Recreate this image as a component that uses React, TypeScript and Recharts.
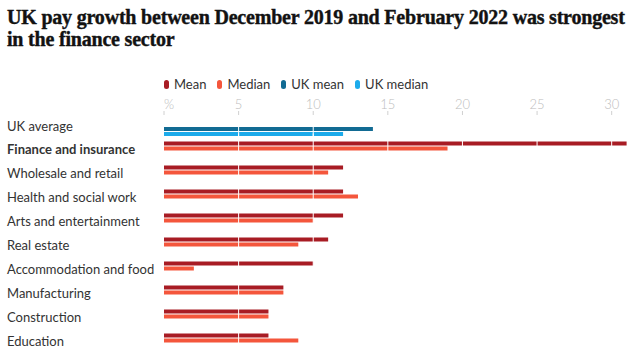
import { BarChart, Bar, XAxis, YAxis, Cell, ReferenceLine } from 'recharts'

const title = 'UK pay growth between December 2019 and February 2022 was strongest in the finance sector'

const sectors = [
  'Finance and insurance', 'Wholesale and retail', 'Health and social work',
  'Arts and entertainment', 'Real estate', 'Accommodation and food',
  'Manufacturing', 'Construction', 'Education',
]
const meanGrowth = [31, 12, 12, 12, 11, 10, 8, 7, 7]
const medianGrowth = [19, 11, 13, 10, 9, 2, 8, 7, 9]

const ukLabel = 'UK average'
const ukMean = [14]
const ukMedian = [12]

const xTicks = [0, 5, 10, 15, 20, 25, 30]
const highlighted = 'Finance and insurance'

const legendNames = ['Mean', 'Median', 'UK mean', 'UK median']
const legendColors = ['#a81c24', '#f4563c', '#126b93', '#1cabeb']

const W = 634
const SANS = 'Lato, "Noto Sans", sans-serif'
const DOMAIN: [number, number] = [0, 31]

const sectorData = sectors.map((name, i) => ({ name, mean: meanGrowth[i], median: medianGrowth[i] }))
const ukData = [{ name: ukLabel, mean: ukMean[0], median: ukMedian[0] }]

function RowLabel({ y, payload, dy }: any) {
  const bold = payload.value === highlighted
  return (
    <text x={7} y={y + dy} fill="#333" fontSize={13} fontFamily={SANS} fontWeight={bold ? 700 : 400}>
      {payload.value}
    </text>
  )
}

function XTick({ x, y, payload }: any) {
  const zero = payload.value === 0
  return (
    <text x={x} y={y} dy={0} textAnchor={zero ? 'start' : 'middle'} fill="#bdbdbd"
      fontSize={13} fontFamily={SANS} fontWeight={300}>
      {zero ? '%' : payload.value}
    </text>
  )
}

function gridOverlay() {
  return xTicks.filter(t => t > 0).map(t => (
    <ReferenceLine key={t} x={t} stroke="#fff" strokeWidth={1} ifOverflow="extendDomain" />
  ))
}

export default function App() {
  return (
    <div style={{ position: 'absolute', left: 0, top: 0, width: W, height: 357, background: '#fff', overflow: 'hidden' }}>
      <div style={{
        position: 'absolute', left: 7, top: 6, width: 623,
        fontFamily: '"Liberation Serif", serif', fontWeight: 700, fontSize: 20,
        lineHeight: '22px', color: '#121212', letterSpacing: -0.2,
        WebkitTextStroke: '0.4px #121212',
      }}>
        {title}
      </div>

      <div style={{ position: 'absolute', left: 164, top: 76, display: 'flex', gap: 11, fontFamily: SANS, fontSize: 13, color: '#333' }}>
        {legendNames.map((n, i) => (
          <div key={n} style={{ display: 'flex', alignItems: 'center', gap: 5 }}>
            <span style={{ display: 'inline-block', width: 5, height: 9, borderRadius: 3, background: legendColors[i] }} />
            <span>{n}</span>
          </div>
        ))}
      </div>

      <div style={{ position: 'absolute', left: 0, top: 0 }}>
        <BarChart width={W} height={150} data={ukData} layout="vertical"
          margin={{ top: 85, right: 7.4, bottom: 2, left: 0 }} barSize={4} barGap={1}>
          <XAxis type="number" orientation="top" domain={DOMAIN} ticks={xTicks} height={30}
            axisLine={false} tickSize={4} tickLine={{ stroke: '#d0d0d0' }} tick={<XTick />} />
          <YAxis type="category" dataKey="name" width={164} axisLine={false} tickLine={false}
            tick={<RowLabel dy={-0.5} />} />
          <Bar dataKey="mean" fill={legendColors[2]} isAnimationActive={false} />
          <Bar dataKey="median" fill={legendColors[3]} isAnimationActive={false} />
          {gridOverlay()}
        </BarChart>
      </div>

      <div style={{ position: 'absolute', left: 0, top: 0 }}>
        <BarChart width={W} height={357} data={sectorData} layout="vertical"
          margin={{ top: 133.5, right: 7.4, bottom: 7.5, left: 0 }} barSize={4} barGap={1}>
          <XAxis type="number" domain={DOMAIN} ticks={xTicks} hide />
          <YAxis type="category" dataKey="name" width={164} axisLine={false} tickLine={false}
            tick={<RowLabel dy={8.5} />} />
          <Bar dataKey="mean" isAnimationActive={false}>
            {sectorData.map(d => <Cell key={d.name} fill={legendColors[0]} />)}
          </Bar>
          <Bar dataKey="median" fill={legendColors[1]} isAnimationActive={false} />
          {gridOverlay()}
        </BarChart>
      </div>
    </div>
  )
}
